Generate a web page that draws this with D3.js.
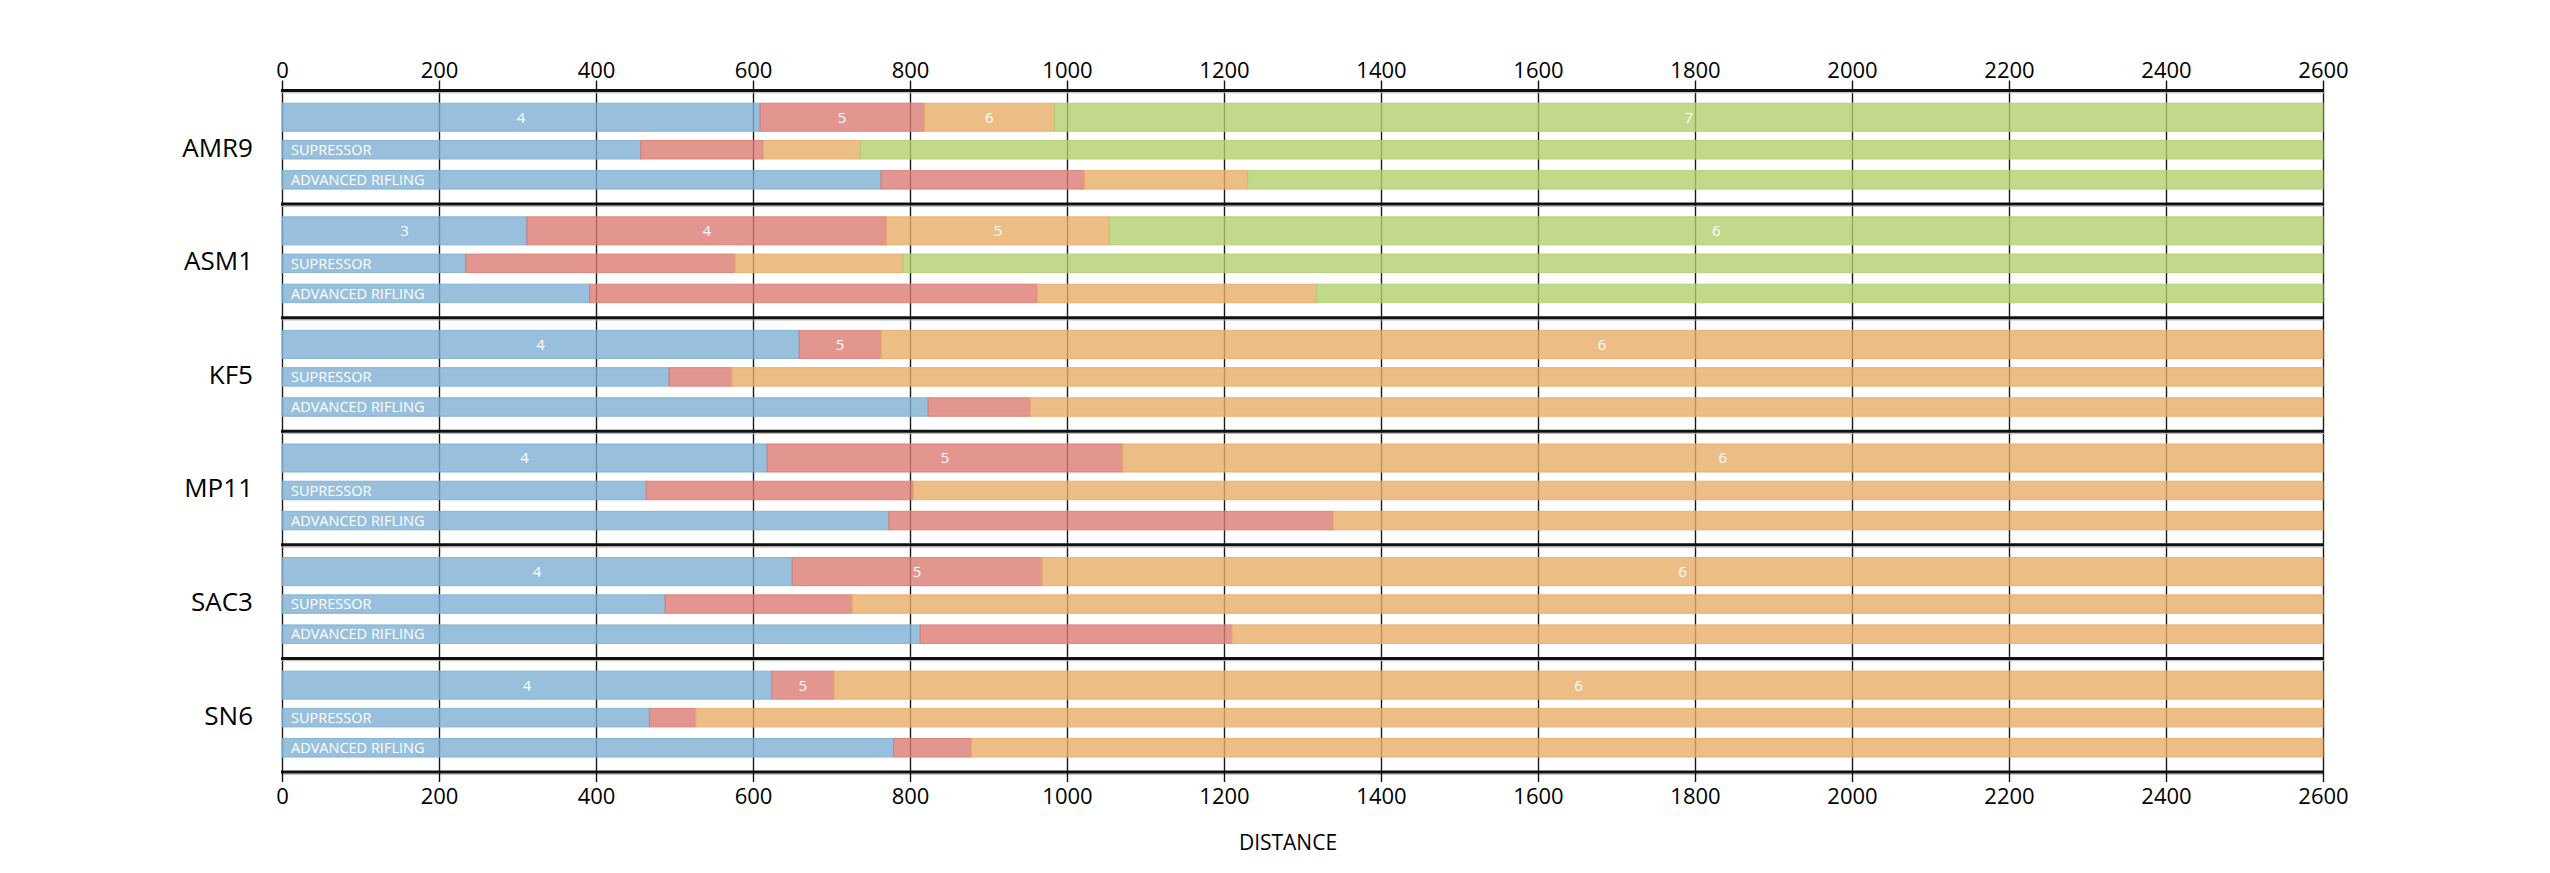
<!DOCTYPE html>
<html>
<head>
<meta charset="utf-8">
<script src="https://cdn.jsdelivr.net/npm/d3@7"></script>
<style>
  html, body { margin: 0; padding: 0; background: #fff; }
  svg { display: block; }
  text { font-family: "Open Sans", "Noto Sans", sans-serif; }
</style>
</head>
<body>
<svg id="chart" width="2550" height="873"></svg>
<script>
// ---- data (cumulative end distance of each damage segment) ----
const categories = ["AMR9", "ASM1", "KF5", "MP11", "SAC3", "SN6"];
const rowLabels = ["", "SUPRESSOR", "ADVANCED RIFLING"];
const baseEnds = [
  [609, 818, 984, 2600],
  [312, 770, 1054, 2600],
  [659, 763, 2600],
  [618, 1071, 2600],
  [650, 968, 2600],
  [624, 703, 2600]
];
const supEnds = [
  [457, 613, 737, 2600],
  [234, 577, 791, 2600],
  [493, 573, 2600],
  [464, 804, 2600],
  [488, 726, 2600],
  [468, 527, 2600]
];
const advEnds = [
  [763, 1022, 1230, 2600],
  [392, 962, 1318, 2600],
  [823, 953, 2600],
  [773, 1339, 2600],
  [813, 1210, 2600],
  [779, 878, 2600]
];
const shotLabels = [
  [4, 5, 6, 7],
  [3, 4, 5, 6],
  [4, 5, 6],
  [4, 5, 6],
  [4, 5, 6],
  [4, 5, 6]
];
const xTicks = [0, 200, 400, 600, 800, 1000, 1200, 1400, 1600, 1800, 2000, 2200, 2400, 2600];
const segColors = ["#7eafd3", "#db7c73", "#e9ac68", "#b3ce6e"];
const axisTitle = "DISTANCE";

(function () {
// ---- layout ----
const svg = d3.select("#chart");
const pL = 282, pR = 2323, pT = 90.5, pB = 772;

const x = d3.scaleLinear().domain([0, 2600]).range([pL, pR]);
const y = d3.scaleBand().domain(categories).range([pT, pB]).paddingInner(0).paddingOuter(0);
const bw = y.bandwidth();
// row geometry within a group (fractions of the group height)
const rowY = d3.scaleOrdinal().domain([0, 1, 2]).range([0.112, 0.44, 0.705]);
const rowH = d3.scaleOrdinal().domain([0, 1, 2]).range([0.247, 0.163, 0.163]);

// gridlines (under bars)
svg.append("g")
  .attr("transform", `translate(0,${pB})`)
  .call(d3.axisBottom(x).tickValues(xTicks).tickSize(-(pB - pT)).tickFormat(""))
  .call(g => g.select(".domain").remove())
  .call(g => g.selectAll("line").attr("stroke", "#1a1a1a").attr("stroke-width", 1.4));

// build rows
const rows = [];
categories.forEach((c, ci) => {
  [baseEnds[ci], supEnds[ci], advEnds[ci]].forEach((ends, ri) => {
    const segs = ends.map((e, si) => ({
      cat: c, row: ri, idx: si,
      start: si === 0 ? 0 : ends[si - 1], end: e,
      label: ri === 0 ? shotLabels[ci][si] : null
    }));
    rows.push({ cat: c, row: ri, segs });
  });
});

const rowG = svg.append("g").selectAll("g.row").data(rows).join("g")
  .attr("class", "row")
  .attr("transform", d => `translate(0,${y(d.cat) + rowY(d.row) * bw})`);

rowG.selectAll("rect").data(d => d.segs).join("rect")
  .attr("x", d => x(d.start))
  .attr("width", d => x(d.end) - x(d.start))
  .attr("y", 0)
  .attr("height", d => rowH(d.row) * bw)
  .attr("fill", d => segColors[d.idx])
  .attr("fill-opacity", 0.8)
  .attr("stroke", d => segColors[d.idx])
  .attr("stroke-opacity", 0.9)
  .attr("stroke-width", 1);

// shot-count labels in base row
rowG.filter(d => d.row === 0).selectAll("text.num").data(d => d.segs).join("text")
  .attr("class", "num")
  .attr("x", d => (x(d.start) + x(d.end)) / 2)
  .attr("y", rowH(0) * bw / 2)
  .attr("dy", "0.36em")
  .attr("text-anchor", "middle")
  .attr("fill", "#fff")
  .attr("font-size", 15)
  .text(d => d.label);

// attachment labels
rowG.filter(d => d.row > 0).append("text")
  .attr("x", x(0) + 9)
  .attr("y", d => rowH(d.row) * bw / 2)
  .attr("dy", "0.36em")
  .attr("fill", "#fff")
  .attr("font-size", 14.5)
  .text(d => rowLabels[d.row]);

// group separators
const seps = categories.map(c => y(c)).concat([pB]);
svg.append("g").selectAll("line.sepg").data(seps).join("line")
  .attr("x1", x(0) - 1).attr("x2", x(2600) + 1)
  .attr("y1", d => d + 2.3).attr("y2", d => d + 2.3)
  .attr("stroke", "#b5b5b5").attr("stroke-width", 1);
svg.append("g").selectAll("line.sep").data(seps).join("line")
  .attr("x1", x(0) - 1).attr("x2", x(2600) + 1)
  .attr("y1", d => d).attr("y2", d => d)
  .attr("stroke", "#111").attr("stroke-width", 3);

// axes
const axTop = svg.append("g")
  .attr("transform", `translate(0,${pT})`)
  .call(d3.axisTop(x).tickValues(xTicks).tickSize(10).tickPadding(3).tickFormat(d3.format("d")));
const axBot = svg.append("g")
  .attr("transform", `translate(0,${pB})`)
  .call(d3.axisBottom(x).tickValues(xTicks).tickSize(10).tickPadding(6).tickFormat(d3.format("d")));
[axTop, axBot].forEach(a => {
  a.select(".domain").remove();
  a.selectAll("line").attr("stroke", "#111").attr("stroke-width", 1.4);
  a.selectAll("text").attr("font-size", 22).attr("fill", "#000")
    .attr("font-family", '"Open Sans", sans-serif');
});

// category labels
svg.append("g").selectAll("text").data(categories).join("text")
  .attr("x", 253)
  .attr("y", d => y(d) + bw / 2)
  .attr("dy", "0.36em")
  .attr("text-anchor", "end")
  .attr("font-size", 26)
  .attr("fill", "#000")
  .text(d => d);

// axis title
svg.append("text")
  .attr("x", 1288)
  .attr("y", 850)
  .attr("text-anchor", "middle")
  .attr("font-size", 21)
  .attr("fill", "#000")
  .text(axisTitle);
})();
</script>
</body>
</html>
